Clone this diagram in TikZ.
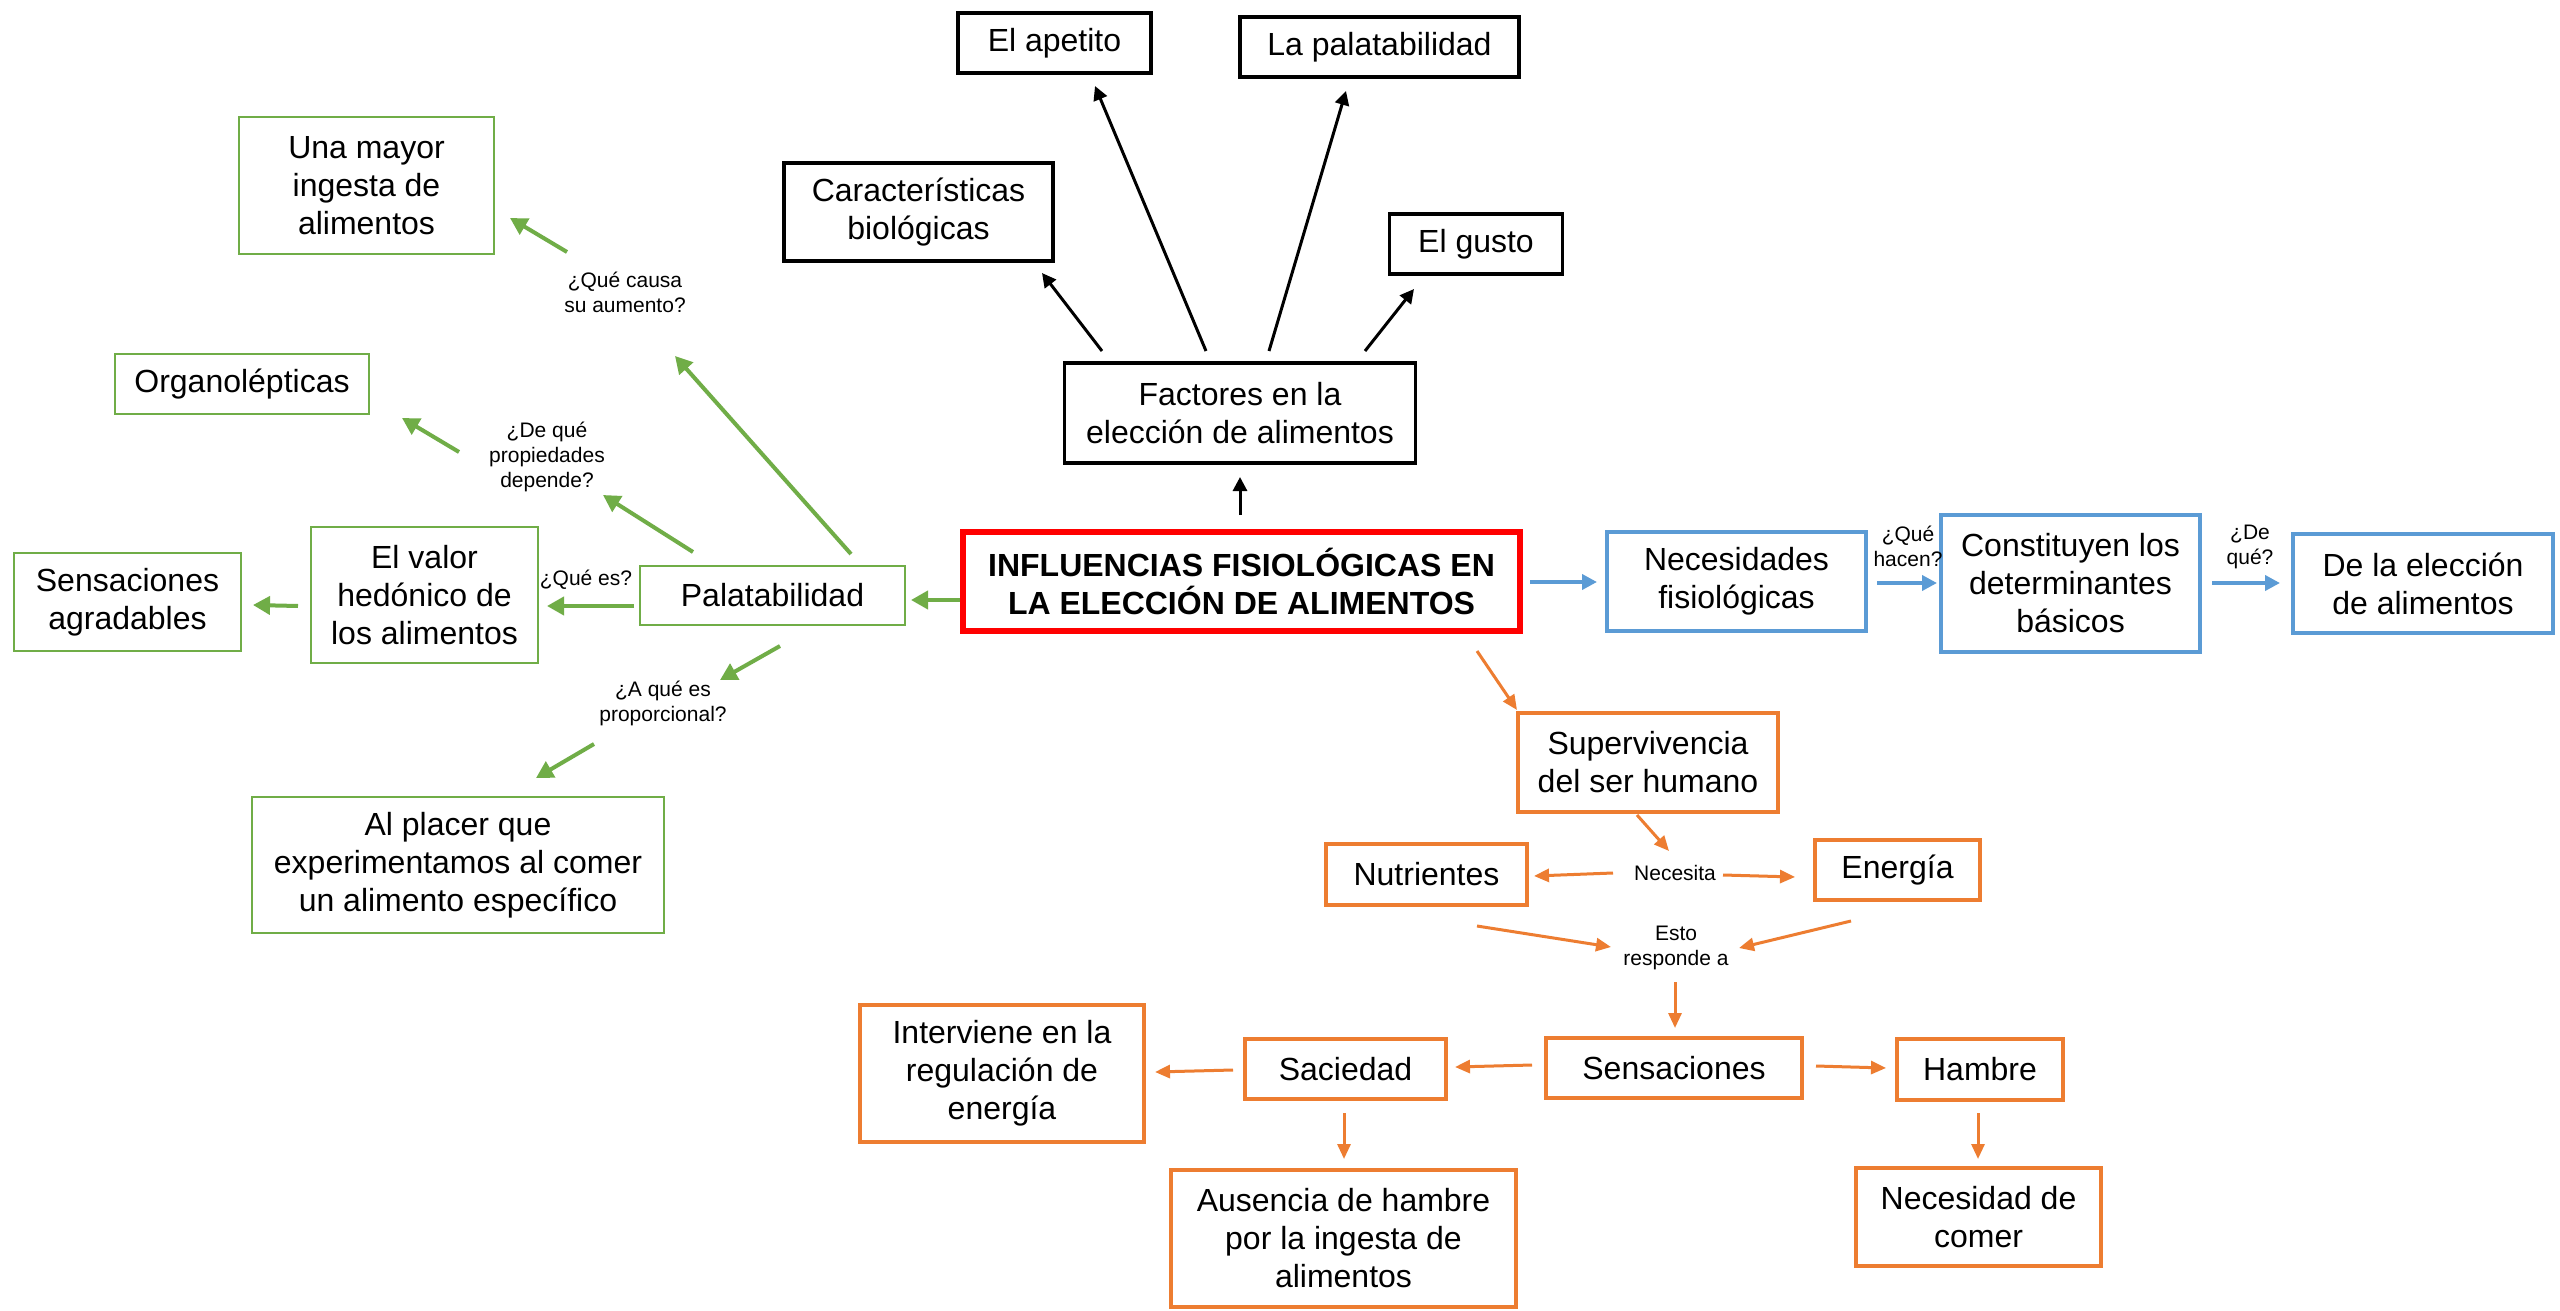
\documentclass[tikz,border=0pt]{standalone}
\usepackage{fontspec}
\setmainfont{Liberation Sans}
\usetikzlibrary{arrows.meta}
\definecolor{cgreen}{HTML}{70AD47}
\definecolor{cblue}{HTML}{5B9BD5}
\definecolor{corange}{HTML}{ED7D31}
\definecolor{cred}{HTML}{FF0000}
\tikzset{
  boxbase/.style={rectangle, inner sep=0pt, align=center, fill=white, font=\fontsize{16}{19}\selectfont},
  blkbox/.style={boxbase, draw=black, line width=1.8pt},
  grnbox/.style={boxbase, draw=cgreen, line width=1.4pt},
  blubox/.style={boxbase, draw=cblue, line width=1.8pt},
  orabox/.style={boxbase, draw=corange, line width=1.8pt},
  redbox/.style={boxbase, draw=cred, line width=2.8pt, font=\fontsize{16}{19}\selectfont\bfseries},
  lbl/.style={inner sep=0pt, align=center, font=\fontsize{10.5}{12.5}\selectfont},
  barr/.style={draw=black, line width=1.5pt, -{Triangle[length=7pt,width=7pt]}},
  garr/.style={draw=cgreen, line width=2pt, -{Triangle[length=8.5pt,width=9pt]}},
  uarr/.style={draw=cblue, line width=2pt, -{Triangle[length=7.5pt,width=7.5pt]}},
  oarr/.style={draw=corange, line width=1.5pt, -{Triangle[length=7.5pt,width=6.5pt]}},
}
\begin{document}
\begin{tikzpicture}[x=0.5pt,y=-0.5pt]
\useasboundingbox[fill=white] (0,0) rectangle (2560,1311);

% ---- black nodes
\node[blkbox, minimum width=96.5pt, minimum height=30pt] (apetito) at (1054.5,43) {El apetito};
\node[blkbox, minimum width=139.5pt, minimum height=30pt] (lapal) at (1379.5,47) {La palatabilidad};
\node[blkbox, minimum width=134.5pt, minimum height=49pt] (carac) at (918.5,212) {Características\\biológicas};
\node[blkbox, minimum width=86.5pt, minimum height=30pt] (gusto) at (1476,244) {El gusto};
\node[blkbox, minimum width=175.5pt, minimum height=50pt] (factores) at (1240,413) {Factores en la\\elección de alimentos};

% ---- central node
\node[redbox, minimum width=278.5pt, minimum height=49.5pt] (main) at (1241.5,581.5) {INFLUENCIAS FISIOLÓGICAS EN\\LA ELECCIÓN DE ALIMENTOS};

% ---- blue nodes
\node[blubox, minimum width=129.5pt, minimum height=49.5pt] (neces) at (1736.5,581.5) {Necesidades\\fisiológicas};
\node[blubox, minimum width=129.5pt, minimum height=68.5pt] (const) at (2070.5,583.5) {Constituyen los\\determinantes\\básicos};
\node[blubox, minimum width=130pt, minimum height=49.5pt] (delael) at (2423,583.5) {De la elección\\de alimentos};

% ---- green nodes
\node[grnbox, minimum width=132.5pt, minimum height=29.5pt] (palat) at (772.5,595.5) {Palatabilidad};
\node[grnbox, minimum width=113.5pt, minimum height=68pt] (valor) at (424.5,595) {El valor\\hedónico de\\los alimentos};
\node[grnbox, minimum width=113.5pt, minimum height=49pt] (sensagr) at (127.5,602) {Sensaciones\\agradables};
\node[grnbox, minimum width=127.5pt, minimum height=68.5pt] (unamayor) at (366.5,185.5) {Una mayor\\ingesta de\\alimentos};
\node[grnbox, minimum width=127pt, minimum height=30pt] (organo) at (242,384) {Organolépticas};
\node[grnbox, minimum width=206pt, minimum height=68pt] (placer) at (458,865) {Al placer que\\experimentamos al comer\\un alimento específico};

% ---- orange nodes
\node[orabox, minimum width=130pt, minimum height=49.5pt] (superv) at (1648,762.5) {Supervivencia\\del ser humano};
\node[orabox, minimum width=100.5pt, minimum height=30.5pt] (nutri) at (1426.5,874.5) {Nutrientes};
\node[orabox, minimum width=82.5pt, minimum height=30pt] (energia) at (1897.5,870) {Energía};
\node[orabox, minimum width=128pt, minimum height=30pt] (sensac) at (1674,1068) {Sensaciones};
\node[orabox, minimum width=100.5pt, minimum height=30pt] (saciedad) at (1345.5,1069) {Saciedad};
\node[orabox, minimum width=83pt, minimum height=30.5pt] (hambre) at (1980,1069.5) {Hambre};
\node[orabox, minimum width=142pt, minimum height=68.5pt] (interv) at (1002,1073.5) {Interviene en la\\regulación de\\energía};
\node[orabox, minimum width=172.5pt, minimum height=68.5pt] (ausencia) at (1343.5,1238.5) {Ausencia de hambre\\por la ingesta de\\alimentos};
\node[orabox, minimum width=122.5pt, minimum height=49pt] (necesidad) at (1978.5,1217) {Necesidad de\\comer};

% ---- small labels
\node[lbl] (lcausa) at (625,292) {¿Qué causa\\su aumento?};
\node[lbl] (ldepende) at (547,457) {¿De qué\\propiedades\\depende?};
\node[lbl] (lquees) at (586,580) {¿Qué es?};
\node[lbl] (lprop) at (663,703) {¿A qué es\\proporcional?};
\node[lbl] (lhacen) at (1908,546) {¿Qué\\hacen?};
\node[lbl] (ldeque) at (2250,547) {¿De\\qué?};
\node[lbl] (lnecesita) at (1675,873) {Necesita};
\node[lbl] (lesto) at (1676,948) {Esto\\responde a};

% ---- arrow end points
\coordinate (a1s) at (1240,515);  \coordinate (a1e) at (1240,477);
\coordinate (a2s) at (1102,351);  \coordinate (a2e) at (1042,273);
\coordinate (a3s) at (1206,351);  \coordinate (a3e) at (1095,86);
\coordinate (a4s) at (1269,351);  \coordinate (a4e) at (1346,91);
\coordinate (a5s) at (1365,351);  \coordinate (a5e) at (1414,289);

\coordinate (g1s) at (851,554);  \coordinate (g1e) at (675,356);
\coordinate (g2s) at (567,252);  \coordinate (g2e) at (510,218);
\coordinate (g3s) at (693,552);  \coordinate (g3e) at (603,495);
\coordinate (g4s) at (459,452);  \coordinate (g4e) at (402,418);
\coordinate (g5s) at (634,606);  \coordinate (g5e) at (547,606);
\coordinate (g6s) at (298,606);  \coordinate (g6e) at (253,605);
\coordinate (g7s) at (780,646);  \coordinate (g7e) at (720,680);
\coordinate (g8s) at (594,744);  \coordinate (g8e) at (536,778);
\coordinate (g9s) at (960,600);  \coordinate (g9e) at (911,600);

\coordinate (b1s) at (1530,582); \coordinate (b1e) at (1597,582);
\coordinate (b2s) at (1877,583); \coordinate (b2e) at (1937,583);
\coordinate (b3s) at (2212,583); \coordinate (b3e) at (2280,583);

\coordinate (o1s) at (1477,651);  \coordinate (o1e) at (1517,710);
\coordinate (o2s) at (1637,815);  \coordinate (o2e) at (1669,851);
\coordinate (o3s) at (1613,873);  \coordinate (o3e) at (1534,876);
\coordinate (o4s) at (1723,875);  \coordinate (o4e) at (1795,877);
\coordinate (o5s) at (1477,926);  \coordinate (o5e) at (1611,947);
\coordinate (o6s) at (1851,921);  \coordinate (o6e) at (1739,948);
\coordinate (o7s) at (1675,982);  \coordinate (o7e) at (1675,1028);
\coordinate (o8s) at (1532,1065); \coordinate (o8e) at (1455,1067);
\coordinate (o9s) at (1233,1070); \coordinate (o9e) at (1155,1072);
\coordinate (o10s) at (1344,1113); \coordinate (o10e) at (1344,1159);
\coordinate (o11s) at (1816,1066); \coordinate (o11e) at (1886,1068);
\coordinate (o12s) at (1978,1113); \coordinate (o12e) at (1978,1159);

% ---- arrows
\foreach \i in {1,...,5} {\draw[barr] (a\i s) -- (a\i e);}
\foreach \i in {1,...,9} {\draw[garr] (g\i s) -- (g\i e);}
\foreach \i in {1,...,3} {\draw[uarr] (b\i s) -- (b\i e);}
\foreach \i in {1,...,12} {\draw[oarr] (o\i s) -- (o\i e);}
\end{tikzpicture}
\end{document}
